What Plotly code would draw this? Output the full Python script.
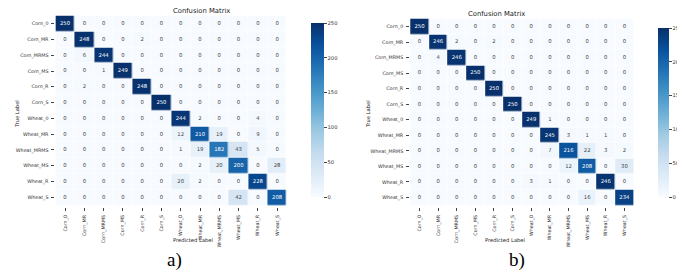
import plotly.graph_objects as go
import plotly.colors as pc

labels = ["Corn_0", "Corn_MR", "Corn_MRMS", "Corn_MS", "Corn_R", "Corn_S",
          "Wheat_0", "Wheat_MR", "Wheat_MRMS", "Wheat_MS", "Wheat_R", "Wheat_S"]

cm_a = [
    [250, 0, 0, 0, 0, 0, 0, 0, 0, 0, 0, 0],
    [0, 248, 0, 0, 2, 0, 0, 0, 0, 0, 0, 0],
    [0, 6, 244, 0, 0, 0, 0, 0, 0, 0, 0, 0],
    [0, 0, 1, 249, 0, 0, 0, 0, 0, 0, 0, 0],
    [0, 2, 0, 0, 248, 0, 0, 0, 0, 0, 0, 0],
    [0, 0, 0, 0, 0, 250, 0, 0, 0, 0, 0, 0],
    [0, 0, 0, 0, 0, 0, 244, 2, 0, 0, 4, 0],
    [0, 0, 0, 0, 0, 0, 12, 210, 19, 0, 9, 0],
    [0, 0, 0, 0, 0, 0, 1, 19, 182, 43, 5, 0],
    [0, 0, 0, 0, 0, 0, 0, 2, 20, 200, 0, 28],
    [0, 0, 0, 0, 0, 0, 20, 2, 0, 0, 228, 0],
    [0, 0, 0, 0, 0, 0, 0, 0, 0, 42, 0, 208],
]

cm_b = [
    [250, 0, 0, 0, 0, 0, 0, 0, 0, 0, 0, 0],
    [0, 246, 2, 0, 2, 0, 0, 0, 0, 0, 0, 0],
    [0, 4, 246, 0, 0, 0, 0, 0, 0, 0, 0, 0],
    [0, 0, 0, 250, 0, 0, 0, 0, 0, 0, 0, 0],
    [0, 0, 0, 0, 250, 0, 0, 0, 0, 0, 0, 0],
    [0, 0, 0, 0, 0, 250, 0, 0, 0, 0, 0, 0],
    [0, 0, 0, 0, 0, 0, 249, 1, 0, 0, 0, 0],
    [0, 0, 0, 0, 0, 0, 0, 245, 3, 1, 1, 0],
    [0, 0, 0, 0, 0, 0, 0, 7, 216, 22, 3, 2],
    [0, 0, 0, 0, 0, 0, 0, 0, 12, 208, 0, 30],
    [0, 0, 0, 0, 0, 0, 3, 1, 0, 0, 246, 0],
    [0, 0, 0, 0, 0, 0, 0, 0, 0, 16, 0, 234],
]

colorbar_ticks = [0, 50, 100, 150, 200, 250]
panel_labels = ["a)", "b)"]

W, H = 685, 278
blues = pc.sequential.Blues
FONT = "DejaVu Sans"

fig = go.Figure()

panels = [
    dict(cm=cm_a, xd=(49, 288), yd=(6, 199), cbx=(303, 13), cby=(5, 199), suffix="", cx=168),
    dict(cm=cm_b, xd=(415.5, 646.5), yd=(9, 199), cbx=(661, 11), cby=(10, 199), suffix="2", cx=536),
]

for i, p in enumerate(panels):
    cm = p["cm"]
    xa = "x" + p["suffix"]
    ya = "y" + p["suffix"]
    fig.add_trace(go.Heatmap(
        z=cm, x=labels, y=labels, colorscale=blues, zmin=0, zmax=250,
        xgap=0.6, ygap=0.6, xaxis=xa, yaxis=ya, hoverinfo="skip",
        colorbar=dict(
            x=p["cbx"][0] / W, xanchor="left", thickness=p["cbx"][1],
            y=1 - p["cby"][1] / H, yanchor="bottom", len=(p["cby"][1] - p["cby"][0]) / H,
            lenmode="fraction", outlinewidth=0, tickvals=colorbar_ticks,
            ticks="outside", ticklen=3, tickwidth=0.6, tickcolor="#444",
            tickfont=dict(size=5.2, family=FONT, color="#333"),
        ),
    ))
    xs, ys, ts, cs = [], [], [], []
    for r, row in enumerate(cm):
        for c, v in enumerate(row):
            xs.append(labels[c]); ys.append(labels[r]); ts.append(str(v))
            cs.append("white" if v > 125 else "#444")
    fig.add_trace(go.Scatter(
        x=xs, y=ys, text=ts, mode="text", xaxis=xa, yaxis=ya,
        textfont=dict(size=5.3, family=FONT, color=cs), hoverinfo="skip", showlegend=False,
    ))
    axis_common = dict(
        type="category", showgrid=False, zeroline=False, showline=False,
        ticks="outside", ticklen=3, tickwidth=0.6, tickcolor="#444",
        ticklabelstandoff=2,
        tickfont=dict(size=4.8, family=FONT, color="#333"),
    )
    xkey = "xaxis" + p["suffix"]
    ykey = "yaxis" + p["suffix"]
    fig.update_layout({
        xkey: dict(axis_common, domain=[p["xd"][0] / W, p["xd"][1] / W], anchor=ya,
                   tickangle=-90, range=[-0.5, 11.5]),
        ykey: dict(axis_common, domain=[1 - p["yd"][1] / H, 1 - p["yd"][0] / H], anchor=xa,
                   autorange="reversed"),
    })
    fig.add_annotation(text="Confusion Matrix", x=p["cx"] / W, y=1 - (p["yd"][0] - 3) / H,
                       xref="paper", yref="paper", showarrow=False, yanchor="middle",
                       font=dict(size=6.8, family=FONT, color="#222"))
    fig.add_annotation(text="Predicted Label", x=p["cx"] / W, y=1 - 237 / H,
                       xref="paper", yref="paper", showarrow=False,
                       font=dict(size=5.2, family=FONT, color="#222"))
    fig.add_annotation(text="True Label", x=(4 if i == 0 else 372) / W, y=1 - 106 / H,
                       xref="paper", yref="paper", showarrow=False, textangle=-90,
                       font=dict(size=5.2, family=FONT, color="#222"))
    fig.add_annotation(text=panel_labels[i], x=(162 if i == 0 else 536) / W, y=1 - 265 / H,
                       xref="paper", yref="paper", showarrow=False,
                       font=dict(size=19, family="Liberation Serif", color="#000"))

fig.update_layout(
    width=W, height=H, margin=dict(l=0, r=0, t=0, b=0),
    paper_bgcolor="white", plot_bgcolor="white", showlegend=False,
)

fig.write_html("out.html")
